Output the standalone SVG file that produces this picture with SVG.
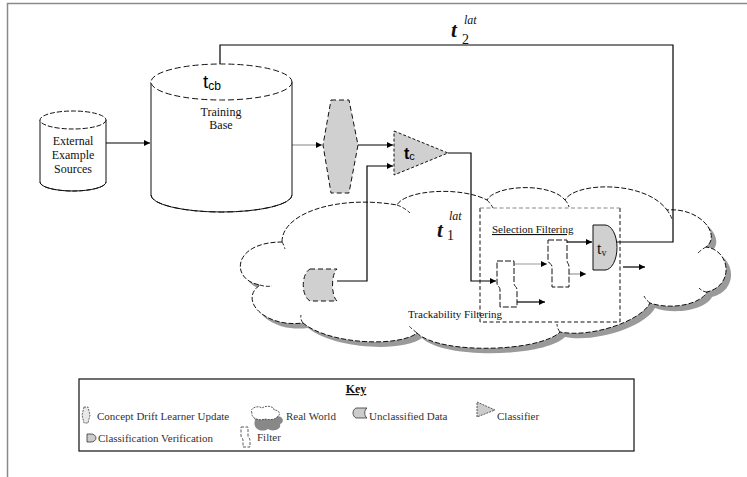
<svg xmlns="http://www.w3.org/2000/svg" width="747" height="477" viewBox="0 0 747 477">
<defs>
<marker id="ah" viewBox="0 0 10 10" refX="10" refY="5" markerWidth="7" markerHeight="6" orient="auto" markerUnits="userSpaceOnUse">
<path d="M0,0 L10,5 L0,10 Z" fill="#000"/>
</marker>
<path id="cloudP" d="M282,242 C282,212 340,195 397,205 C405,190 460,186 487,200 C495,185 550,182 565,200 C575,182 645,180 667,210 C700,207 722,235 706,247 C730,250 735,285 707,292 C700,305 670,310 650,303 C640,322 590,338 560,332 C540,352 440,355 417,333 C400,347 330,345 303,323 C265,328 238,300 260,285 C230,280 232,242 282,242 Z"/>
</defs>
<style>
.ln{fill:none;stroke:#000;stroke-width:1.2}
.gl{fill:none;stroke:#999;stroke-width:1.2}
.dash{stroke-dasharray:5 3}
.sdash{stroke-dasharray:3 2}
.gray{fill:#d0d0d0;stroke:#111;stroke-width:1}
.wht{fill:#fff;stroke:#111;stroke-width:1}
.ser{font-family:"Liberation Serif","Times New Roman",serif;fill:#111}
.key{font-family:"Liberation Serif","Times New Roman",serif;font-size:11px;fill:#333}
.big{font-family:"Liberation Sans",Arial,sans-serif;fill:#000}
</style>
<rect width="747" height="477" fill="#fff"/>
<path d="M7.5,477 V3.5 H747" fill="none" stroke="#8a8a8a" stroke-width="1.5"/>

<g id="real-world">
<use href="#cloudP" transform="translate(5,5)" fill="#9a9a9a"/>
<use href="#cloudP" fill="#fff" stroke="#111" stroke-width="1" stroke-dasharray="5 2"/>
<path d="M397,205 q8,3 13,8 M487,200 q4,4 6,8 M565,200 q3,3 4,7 M667,210 q3,4 5,9 M706,247 q-4,2 -8,6 M707,292 q-4,0 -8,-4 M650,303 q-4,-3 -6,-7 M560,332 q-3,-4 -3,-8 M417,333 q-5,-4 -8,-7 M303,323 q-3,-4 -2,-8 M260,285 q6,2 12,1 M282,242 q2,3 3,7" fill="none" stroke="#111" stroke-width="0.9" stroke-dasharray="4 2"/>
</g>

<g id="connectors">
<line class="ln" x1="106" y1="143" x2="150" y2="143" marker-end="url(#ah)"/>
<line class="gl" x1="292" y1="145" x2="322" y2="145" marker-end="url(#ah)"/>
<line class="ln" x1="358" y1="145" x2="393" y2="145" marker-end="url(#ah)"/>
<polyline class="ln" points="337,281 367,281 367,166 393,166" marker-end="url(#ah)"/>
<polyline class="ln" points="448,153 471,153 471,281 496,281" marker-end="url(#ah)"/>
<line class="gl" x1="514" y1="264" x2="547" y2="264" marker-end="url(#ah)"/>
<line class="ln" x1="517" y1="302" x2="545" y2="302" marker-end="url(#ah)"/>
<line class="ln" x1="567" y1="242" x2="592" y2="242" marker-end="url(#ah)"/>
<line class="gl" x1="569" y1="274" x2="586" y2="274" marker-end="url(#ah)"/>
<line class="ln" x1="623" y1="267" x2="645" y2="267" marker-end="url(#ah)"/>
<polyline class="ln" points="617,242 673,242 673,45 220,45 220,80" marker-end="url(#ah)"/>
</g>

<g id="external-sources">
<path d="M40,120 V182 A33,9 0 0 0 106,182 V120" fill="#fff" stroke="#111" stroke-width="1"/>
<path d="M40,182 A33,9 0 0 0 106,182" fill="none" stroke="#111" stroke-width="1" stroke-dasharray="5 2"/>
<ellipse cx="73" cy="120" rx="33" ry="9" fill="#fff" stroke="#111" stroke-width="1" stroke-dasharray="5 2"/>
<text class="ser" font-size="12" text-anchor="middle"><tspan x="73" y="145">External</tspan><tspan x="73" y="159">Example</tspan><tspan x="73" y="173">Sources</tspan></text>
</g>

<g id="training-base">
<path d="M151,82 V195 A70.5,17 0 0 0 292,195 V82" fill="#fff" stroke="#111" stroke-width="1"/>
<path d="M151,195 A70.5,17 0 0 0 292,195" fill="none" stroke="#111" stroke-width="1" stroke-dasharray="6 3"/>
<ellipse cx="221.5" cy="82" rx="70.5" ry="18" fill="#fff" stroke="#111" stroke-width="1" stroke-dasharray="6 3"/>
<text class="big" x="203" y="88" font-size="19">t<tspan font-size="12" dy="2">cb</tspan></text>
<text class="ser" font-size="12" text-anchor="middle"><tspan x="221" y="116">Training</tspan><tspan x="221" y="129">Base</tspan></text>
</g>

<g id="drift-learner-update">
<polygon class="gray dash" points="331,100 349,100 358,145 349,193 331,193 323,145"/>
</g>

<g id="classifier">
<polygon class="gray sdash" points="394,131 448,153 394,175"/>
<text class="big" x="404" y="159" font-size="16" font-weight="bold">t<tspan font-size="11" font-weight="normal" dy="1">c</tspan></text>
</g>

<g id="unclassified-data">
<path class="gray dash" d="M310,269 H337 C331,274 331,296 337,301 H310 C301,296 301,274 310,269 Z"/>
</g>

<g id="lat-labels">
<text class="ser" x="451" y="37" font-size="21" font-weight="bold" font-style="italic">t</text>
<text class="ser" x="464" y="24" font-size="12" font-style="italic">lat</text>
<text class="ser" x="462" y="44" font-size="14">2</text>
<text class="ser" x="437" y="237" font-size="21" font-weight="bold" font-style="italic">t</text>
<text class="ser" x="449" y="220" font-size="12" font-style="italic">lat</text>
<text class="ser" x="447" y="240" font-size="14">1</text>
</g>

<g id="filter-box">
<path d="M620,208 V322 H480 V208" fill="none" stroke="#111" stroke-width="1" stroke-dasharray="4 2.5"/>
<line x1="480" y1="208" x2="620" y2="208" stroke="#888" stroke-width="1" stroke-dasharray="4 2.5"/>
<text class="ser" x="492" y="233" font-size="11" text-decoration="underline">Selection Filtering</text>
<text class="ser" x="408" y="318" font-size="11">Trackability Filtering</text>
</g>

<g id="filter-1">
<path class="wht" d="M497,261 H514 V283 C514,287 517,286 517,290 V307 H500 V290 C500,286 497,287 497,283 Z" stroke-dasharray="6 2"/>
</g>
<g id="filter-2">
<path class="wht" d="M548,240 H567 V260 C567,264 569,263 569,267 V287 H552 V267 C552,263 548,264 548,260 Z" stroke-dasharray="6 2"/>
</g>

<g id="verification">
<path class="gray" d="M593,225 H605 A12,22.5 0 0 1 605,270 H593 Z"/>
<text class="ser" x="597" y="254" font-size="16">t<tspan font-size="10" dy="2">v</tspan></text>
</g>

<g id="key">
<rect x="79" y="379" width="555" height="72" fill="#fff" stroke="#222" stroke-width="1.3"/>
<text class="ser" x="356" y="393" font-size="12" font-weight="bold" text-anchor="middle" text-decoration="underline">Key</text>
<polygon points="84,407 88,407 90,415 88,423 84,423 82,415" fill="#e8e8e8" stroke="#444" stroke-width="0.8" stroke-dasharray="2 1"/>
<text class="key" x="97" y="420">Concept Drift Learner Update</text>
<path d="M254,416 c-4,-6 6,-9 10,-6 c4,-4 12,-2 12,2 c6,0 8,6 3,8 c2,6 -8,8 -12,5 c-6,4 -16,0 -13,-9 z" fill="#888" transform="translate(1,4)"/>
<path d="M252,413 c-3,-5 6,-8 10,-5 c4,-3 12,-2 12,2 c6,0 7,5 3,7 c-2,3 -8,3 -12,2 c-5,2 -14,0 -13,-6 z" fill="#fff" stroke="#333" stroke-width="0.8" stroke-dasharray="2 1"/>
<text class="key" x="286" y="420">Real World</text>
<path d="M356,408 H367 C364,410 364,416 367,418 H356 C352,416 352,410 356,408 Z" fill="#ccc" stroke="#333" stroke-width="0.8"/>
<text class="key" x="369" y="420">Unclassified Data</text>
<polygon points="477,402 495,410 477,417" fill="#ccc" stroke="#333" stroke-width="0.8" stroke-dasharray="2 1"/>
<text class="key" x="497" y="420">Classifier</text>
<path d="M87,434 H91 A5,4 0 0 1 91,442 H87 Z" fill="#ccc" stroke="#333" stroke-width="0.8"/>
<text class="key" x="98" y="442">Classification Verification</text>
<path d="M241,427 H248 V436 C248,438 250,438 250,440 V447 H243 V440 C243,438 241,438 241,436 Z" fill="#fff" stroke="#333" stroke-width="0.8" stroke-dasharray="3 1.5"/>
<text class="key" x="257" y="441">Filter</text>
</g>
</svg>
